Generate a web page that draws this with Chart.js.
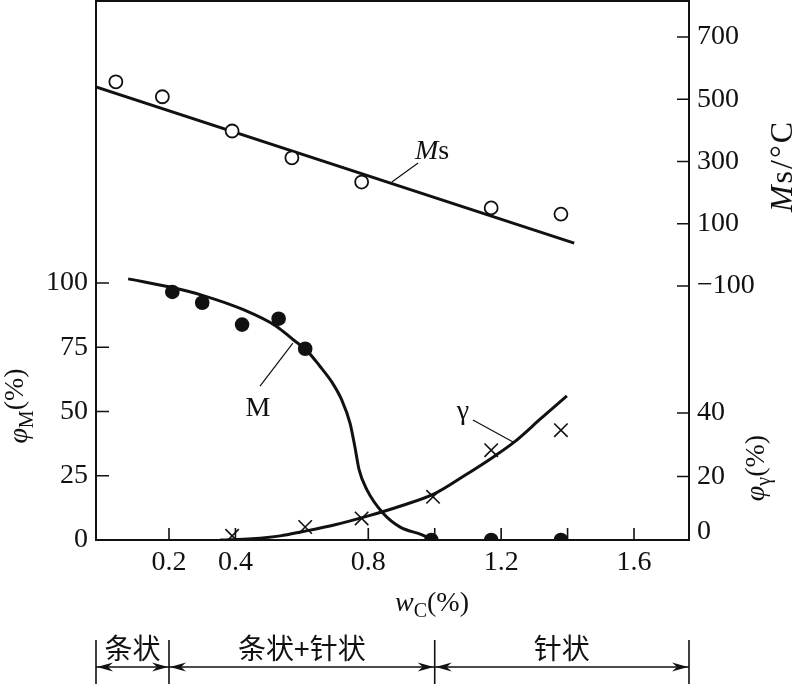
<!DOCTYPE html>
<html>
<head>
<meta charset="utf-8">
<script src="https://cdn.jsdelivr.net/npm/chart.js@4"></script>
<style>
  html, body { margin: 0; padding: 0; background: #fff; }
  #wrap { width: 795px; height: 684px; }
</style>
</head>
<body>
<div id="wrap"><canvas id="chartCanvas" width="795" height="684"></canvas></div>
<script>
// Ms (°C) against carbon content, open circles + fitted line
const msCarbon = [0.04, 0.18, 0.39, 0.57, 0.78, 1.17, 1.38];
const msValues = [556, 508, 398, 312, 234, 151, 131];
const msLineCarbon = [-0.02, 1.42];
const msLineValues = [540, 38];

// martensite volume fraction φM (%), filled dots + curve
const mCarbon = [0.21, 0.30, 0.42, 0.53, 0.61, 0.99, 1.17, 1.38];
const mValues = [96.5, 92.3, 83.8, 86.1, 74.4, 0, 0, 0];
const mCurveCarbon = [0.077, 0.203, 0.303, 0.424, 0.524, 0.574, 0.615, 0.655, 0.69, 0.72, 0.745, 0.76, 0.772, 0.796, 0.844, 0.896, 0.962, 0.992];
const mCurveValues = [101.6, 98.4, 95.1, 89.6, 83.1, 77.9, 73.7, 67.5, 61.5, 54.5, 45.5, 36, 27.5, 19.5, 10.5, 5, 2, 0];

// retained austenite φγ (%), crosses + curve
const gCarbon = [0.39, 0.61, 0.78, 0.995, 1.17, 1.38];
const gValues = [1.3, 4.1, 6.8, 13.6, 28.3, 34.6];
const gCurveCarbon = [0.354, 0.45, 0.535, 0.6, 0.7, 0.8, 0.9, 1.0, 1.09, 1.18, 1.24, 1.32, 1.398];
const gCurveValues = [0, 0.4, 1.3, 2.6, 4.8, 7.6, 10.8, 14.6, 20.3, 26.4, 30.9, 38.3, 45.4];

// axis ticks
const xTicks = [0.2, 0.4, 0.8, 1.0, 1.2, 1.4, 1.6];
const xTickLabels = ['0.2', '0.4', '0.8', '', '1.2', '', '1.6'];
const mTicks = [0, 25, 50, 75, 100];
const msTicks = [700, 500, 300, 100, -100];
const msTickLabels = ['700', '500', '300', '100', '\u2212100'];
const gTicks = [0, 20, 40];

// morphology ranges under the axis
const phaseBounds = [-0.0198, 0.2, 1.0, 1.7656];
const phaseNames = ['条状', '条状+针状', '针状'];

const ink = '#111';
const serif = '"Liberation Serif", "DejaVu Serif", serif';
const cjk = '"Noto Sans CJK SC", sans-serif';

function pts(xs, ys) {
    return xs.map((x, i) => ({ x: x, y: ys[i] }));
}

// draw a run of text pieces (for italics / subscripts), optionally rotated
function richText(ctx, parts, x, y, angle, align, spacing) {
    ctx.save();
    ctx.translate(x, y);
    ctx.rotate(angle);
    ctx.textBaseline = 'alphabetic';
    ctx.textAlign = 'left';
    const gap = spacing || 0;
    let w = 0;
    parts.forEach(p => { ctx.font = p.font; w += ctx.measureText(p.text).width + gap * p.text.length; });
    let cx = align === 'center' ? -w / 2 : 0;
    parts.forEach(p => {
        ctx.font = p.font;
        for (const ch of p.text) {
            ctx.fillText(ch, cx, p.dy || 0);
            cx += ctx.measureText(ch).width + gap;
        }
    });
    ctx.restore();
}

function arrowHead(ctx, x, y, dir) {
    ctx.beginPath();
    ctx.moveTo(x, y);
    ctx.lineTo(x - dir * 16, y - 4.5);
    ctx.lineTo(x - dir * 11, y);
    ctx.lineTo(x - dir * 16, y + 4.5);
    ctx.closePath();
    ctx.fill();
}

const decor = {
    id: 'decor',
    afterDraw(chart) {
        const ctx = chart.ctx;
        const { left, right, top, bottom } = chart.chartArea;
        const sx = chart.scales.x, sM = chart.scales.yM, sMs = chart.scales.yMs, sG = chart.scales.yG;
        ctx.save();
        ctx.strokeStyle = ink;
        ctx.fillStyle = ink;

        // frame
        ctx.lineWidth = 2;
        ctx.strokeRect(left, top, right - left, bottom - top);

        // inward tick marks
        ctx.lineWidth = 1.6;
        ctx.beginPath();
        xTicks.forEach(v => {
            const p = sx.getPixelForValue(v);
            ctx.moveTo(p, bottom); ctx.lineTo(p, bottom - 12);
        });
        mTicks.filter(v => v > 0).forEach(v => {
            const p = sM.getPixelForValue(v);
            ctx.moveTo(left, p); ctx.lineTo(left + 13, p);
        });
        msTicks.forEach(v => {
            const p = sMs.getPixelForValue(v);
            ctx.moveTo(right, p); ctx.lineTo(right - 12, p);
        });
        gTicks.filter(v => v > 0).forEach(v => {
            const p = sG.getPixelForValue(v);
            ctx.moveTo(right, p); ctx.lineTo(right - 12, p);
        });
        ctx.stroke();

        // φγ tick labels share the right side with Ms
        ctx.font = '28px ' + serif;
        ctx.textAlign = 'left';
        ctx.textBaseline = 'middle';
        gTicks.forEach(v => {
            const p = Math.min(sG.getPixelForValue(v), bottom - 8);
            ctx.fillText(String(v), right + 8, p);
        });

        // axis titles
        const big = '28px ' + serif, ital = 'italic 28px ' + serif, sub = '20px ' + serif;
        richText(ctx, [
            { text: 'w', font: ital },
            { text: 'C', font: sub, dy: 6 },
            { text: '(%)', font: big }
        ], 432, 611, 0, 'center');
        richText(ctx, [
            { text: '\u03C6', font: ital },
            { text: 'M', font: sub, dy: 6 },
            { text: '(%)', font: big, dy: -4 }
        ], 27, 406, -Math.PI / 2, 'center');
        richText(ctx, [
            { text: 'M', font: 'italic 32px ' + serif },
            { text: 's/\u00B0C', font: '32px ' + serif }
        ], 792, 166, -Math.PI / 2, 'center', 2);
        richText(ctx, [
            { text: '\u03C6', font: ital },
            { text: '\u03B3', font: sub, dy: 6 },
            { text: '(%)', font: big }
        ], 764, 468, -Math.PI / 2, 'center');

        // curve labels with leader lines
        ctx.lineWidth = 1.2;
        ctx.beginPath();
        ctx.moveTo(sx.getPixelForValue(0.95), sMs.getPixelForValue(295));
        ctx.lineTo(sx.getPixelForValue(0.871), sMs.getPixelForValue(234));
        ctx.moveTo(sx.getPixelForValue(0.474), sM.getPixelForValue(59.9));
        ctx.lineTo(sx.getPixelForValue(0.573), sM.getPixelForValue(76.6));
        ctx.moveTo(sx.getPixelForValue(1.115), sG.getPixelForValue(37.8));
        ctx.lineTo(sx.getPixelForValue(1.236), sG.getPixelForValue(30.9));
        ctx.stroke();
        richText(ctx, [{ text: 'M', font: ital }, { text: 's', font: big }],
            sx.getPixelForValue(0.992), sMs.getPixelForValue(308), 0, 'center');
        richText(ctx, [{ text: 'M', font: big }],
            sx.getPixelForValue(0.468), sM.getPixelForValue(48.2), 0, 'center');
        richText(ctx, [{ text: '\u03B3', font: big }],
            sx.getPixelForValue(1.085), sG.getPixelForValue(38.1), 0, 'center');

        // morphology ranges
        const yTop = 640, yArrow = 667, yEnd = 684;
        const bx = phaseBounds.map(v => sx.getPixelForValue(v));
        ctx.lineWidth = 1.6;
        ctx.beginPath();
        bx.forEach(p => { ctx.moveTo(p, yTop); ctx.lineTo(p, yEnd); });
        ctx.moveTo(bx[0], yArrow);
        ctx.lineTo(bx[bx.length - 1], yArrow);
        ctx.stroke();
        ctx.font = '28px ' + cjk;
        ctx.textAlign = 'center';
        ctx.textBaseline = 'middle';
        phaseNames.forEach((name, i) => {
            const a = bx[i] + 1, b = bx[i + 1] - 1;
            arrowHead(ctx, a, yArrow, -1);
            arrowHead(ctx, b, yArrow, 1);
            ctx.fillText(name, (a + b) / 2, 648);
        });
        ctx.restore();
    }
};

const tickFont = { family: 'Liberation Serif', size: 28 };

new Chart(document.getElementById('chartCanvas').getContext('2d'), {
    type: 'scatter',
    data: {
        datasets: [
            {
                label: 'Ms points',
                data: pts(msCarbon, msValues),
                yAxisID: 'yMs',
                pointStyle: 'circle',
                pointRadius: 6.5,
                pointBorderWidth: 1.8,
                pointBackgroundColor: '#fff',
                pointBorderColor: ink
            },
            {
                label: 'M points',
                data: pts(mCarbon, mValues),
                yAxisID: 'yM',
                pointStyle: 'circle',
                pointRadius: 7.3,
                pointBorderWidth: 0,
                pointBackgroundColor: ink,
                pointBorderColor: ink
            },
            {
                label: 'γ points',
                data: pts(gCarbon, gValues),
                yAxisID: 'yG',
                pointStyle: 'crossRot',
                pointRadius: 9.5,
                pointBorderWidth: 1.6,
                pointBorderColor: ink
            },
            {
                label: 'Ms line',
                data: pts(msLineCarbon, msLineValues),
                yAxisID: 'yMs',
                showLine: true,
                borderColor: ink,
                borderWidth: 3,
                pointRadius: 0
            },
            {
                label: 'M curve',
                data: pts(mCurveCarbon, mCurveValues),
                yAxisID: 'yM',
                showLine: true,
                cubicInterpolationMode: 'monotone',
                borderColor: ink,
                borderWidth: 3,
                pointRadius: 0
            },
            {
                label: 'γ curve',
                data: pts(gCurveCarbon, gCurveValues),
                yAxisID: 'yG',
                showLine: true,
                cubicInterpolationMode: 'monotone',
                borderColor: ink,
                borderWidth: 3,
                pointRadius: 0
            }
        ]
    },
    options: {
        responsive: false,
        animation: false,
        devicePixelRatio: 1,
        layout: { autoPadding: false, padding: { top: 1, left: 0, right: 0, bottom: 0 } },
        plugins: {
            legend: { display: false },
            tooltip: { enabled: false }
        },
        scales: {
            x: {
                type: 'linear',
                position: 'bottom',
                min: -0.0198,
                max: 1.7656,
                grid: { display: false, drawTicks: false },
                border: { display: false },
                afterBuildTicks: s => { s.ticks = xTicks.map(v => ({ value: v })); },
                afterFit: s => { s.height = 144; s.paddingLeft = 0; s.paddingRight = 0; },
                ticks: {
                    autoSkip: false,
                    maxRotation: 0,
                    padding: 6,
                    color: ink,
                    font: tickFont,
                    callback: (v, i) => xTickLabels[i]
                }
            },
            yM: {
                type: 'linear',
                position: 'left',
                min: 0,
                max: 209.7,
                grid: { display: false, drawTicks: false },
                border: { display: false },
                afterBuildTicks: s => { s.ticks = mTicks.map(v => ({ value: v })); },
                afterFit: s => { s.width = 96; s.paddingTop = 0; s.paddingBottom = 0; },
                ticks: { autoSkip: false, padding: 8, color: ink, font: tickFont }
            },
            yMs: {
                type: 'linear',
                position: 'right',
                min: -916,
                max: 815.7,
                grid: { display: false, drawTicks: false },
                border: { display: false },
                afterBuildTicks: s => { s.ticks = msTicks.map(v => ({ value: v })); },
                afterFit: s => { s.width = 106; s.paddingTop = 0; s.paddingBottom = 0; },
                ticks: {
                    autoSkip: false,
                    padding: 8,
                    color: ink,
                    font: tickFont,
                    callback: (v, i) => msTickLabels[i]
                }
            },
            yG: {
                type: 'linear',
                position: 'right',
                display: false,
                min: 0,
                max: 169.8
            }
        }
    },
    plugins: [decor]
});
</script>
</body>
</html>
